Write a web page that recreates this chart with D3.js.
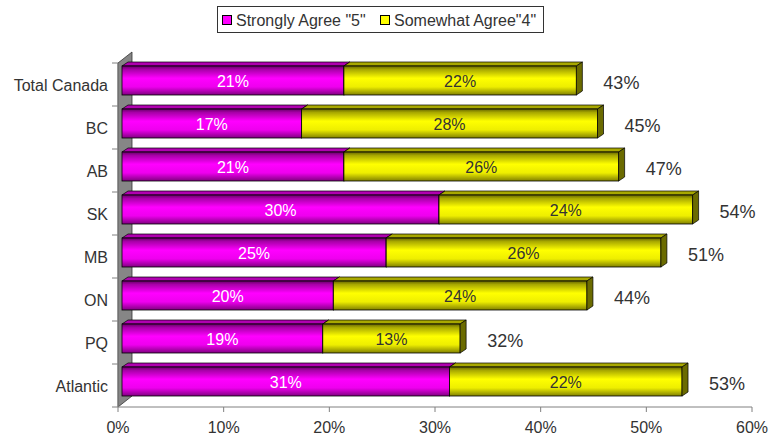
<!DOCTYPE html>
<html>
<head>
<meta charset="utf-8" />
<title>Agreement by region</title>
<style type="text/css">
  body { margin: 0; background: #fff; font-family: 'Liberation Sans', Arial, sans-serif; }
  text { font-family: 'Liberation Sans', Arial, sans-serif; }
</style>
</head>
<body>
<div id="graph"></div>
<script src="https://cdnjs.cloudflare.com/ajax/libs/d3/7.8.5/d3.min.js"></script>
<script>
// chart values
var categories = ["Total Canada", "BC", "AB", "SK", "MB", "ON", "PQ", "Atlantic"];
var strongly = [21, 17, 21, 30, 25, 20, 19, 31];
var somewhat = [22, 28, 26, 24, 26, 24, 13, 22];
var totals = [43, 45, 47, 54, 51, 44, 32, 53];
var seriesNames = ['Strongly Agree "5"', 'Somewhat Agree"4"'];
var xTicks = [0, 10, 20, 30, 40, 50, 60];

var width = 769, height = 438;

var svg = d3.select("#graph").append("svg")
    .attr("width", width)
    .attr("height", height);

var x = d3.scaleLinear().domain([0, 60]).range([118, 752]);
var y = d3.scaleBand().domain(categories).range([63, 407]).padding(0);

// 3d offsets
var wallDx = 14, wallDy = -11;
var frontDx = 4, depthDx = 6, depthDy = -4;
var barH = 29, barTop = 3;

// gradients
var defs = svg.append("defs");
function grad(id, stops) {
  var g = defs.append("linearGradient").attr("id", id)
      .attr("x1", 0).attr("y1", 0).attr("x2", 0).attr("y2", 1);
  stops.forEach(function(s) {
    g.append("stop").attr("offset", s[0]).attr("stop-color", s[1]);
  });
}
grad("gMag", [[0, "#660066"], [0.12, "#a800a8"], [0.42, "#ff00ff"], [0.72, "#ee00ee"], [1, "#800080"]]);
grad("gYel", [[0, "#666600"], [0.12, "#a8a800"], [0.42, "#ffff00"], [0.72, "#eeee00"], [1, "#808000"]]);

var series = [
  {values: strongly, fill: "url(#gMag)", top: "#b000b0", side: "#800080", swatch: "#ff00ff", label: "#fff"},
  {values: somewhat, fill: "url(#gYel)", top: "#a8a800", side: "#6b6b00", swatch: "#ffff00", label: "#333"}
];

// side wall
var x0 = x(0), yT = y.range()[0], yB = y.range()[1];
svg.append("path")
    .attr("d", "M" + x0 + "," + yB + "L" + x0 + "," + yT +
      "L" + (x0 + wallDx) + "," + (yT + wallDy) + "L" + (x0 + wallDx) + "," + (yB + wallDy) + "Z")
    .attr("fill", "#868686")
    .attr("stroke", "#333")
    .attr("stroke-width", 0.8);

// left axis ticks
svg.append("line")
    .attr("x1", x0).attr("x2", x0).attr("y1", yT).attr("y2", yB)
    .attr("stroke", "#808080");
svg.selectAll(".ytick")
    .data(categories.concat(["_end"]))
  .enter().append("line")
    .attr("x1", x0 - 6).attr("x2", x0)
    .attr("y1", function(d, i) { return yT + i * y.bandwidth(); })
    .attr("y2", function(d, i) { return yT + i * y.bandwidth(); })
    .attr("stroke", "#808080");

svg.selectAll(".cat")
    .data(categories)
  .enter().append("text")
    .attr("x", 108)
    .attr("y", function(d) { return y(d) + y.bandwidth() / 2 + 6; })
    .attr("text-anchor", "end")
    .attr("font-size", 16)
    .attr("fill", "#333")
    .text(function(d) { return d; });

// bottom axis
svg.append("line")
    .attr("x1", x(0)).attr("x2", x(60)).attr("y1", yB).attr("y2", yB)
    .attr("stroke", "#808080");
svg.selectAll(".xtick")
    .data(xTicks)
  .enter().append("line")
    .attr("x1", function(d) { return x(d); })
    .attr("x2", function(d) { return x(d); })
    .attr("y1", yB).attr("y2", yB + 5)
    .attr("stroke", "#808080");
svg.selectAll(".xlab")
    .data(xTicks)
  .enter().append("text")
    .attr("x", function(d) { return x(d); })
    .attr("y", 433)
    .attr("text-anchor", "middle")
    .attr("font-size", 16)
    .attr("fill", "#333")
    .text(function(d) { return d + "%"; });

// bars
categories.forEach(function(cat, i) {
  var top = y(cat) + barTop;
  var start = 0;
  series.forEach(function(s) {
    var v = s.values[i];
    var xa = x(start) + frontDx, xb = x(start + v) + frontDx;
    var g = svg.append("g");
    g.append("path")
        .attr("d", "M" + xa + "," + top + "L" + (xa + depthDx) + "," + (top + depthDy) +
          "L" + (xb + depthDx) + "," + (top + depthDy) + "L" + xb + "," + top + "Z")
        .attr("fill", s.top).attr("stroke", "#000").attr("stroke-width", 0.7);
    g.append("rect")
        .attr("x", xa).attr("y", top)
        .attr("width", xb - xa).attr("height", barH)
        .attr("fill", s.fill).attr("stroke", "#000").attr("stroke-width", 0.8);
    g.append("path")
        .attr("d", "M" + xb + "," + top + "L" + (xb + depthDx) + "," + (top + depthDy) +
          "L" + (xb + depthDx) + "," + (top + barH + depthDy) + "L" + xb + "," + (top + barH) + "Z")
        .attr("fill", s.side).attr("stroke", "#000").attr("stroke-width", 0.7);
    g.append("text")
        .attr("x", (xa + xb) / 2)
        .attr("y", top + barH / 2 + 6)
        .attr("text-anchor", "middle")
        .attr("font-size", 16)
        .attr("fill", s.label)
        .text(v + "%");
    start += v;
  });
});

// totals
svg.selectAll(".total")
    .data(totals)
  .enter().append("text")
    .attr("x", function(d) { return x(d) + 31; })
    .attr("y", function(d, i) { return y(categories[i]) + y.bandwidth() / 2 + 4; })
    .attr("font-size", 18)
    .attr("fill", "#333")
    .text(function(d) { return d + "%"; });

// legend
var legend = svg.append("g");
legend.append("rect")
    .attr("x", 217.5).attr("y", 6.5).attr("width", 326).attr("height", 26)
    .attr("fill", "#fff").attr("stroke", "#333");
var legX = [222, 380];
seriesNames.forEach(function(name, i) {
  legend.append("rect")
      .attr("x", legX[i] + 0.5).attr("y", 15.5).attr("width", 9).attr("height", 9)
      .attr("fill", series[i].swatch).attr("stroke", "#000");
  legend.append("text")
      .attr("x", legX[i] + 14).attr("y", 25.5)
      .attr("font-size", 16)
      .attr("fill", "#333")
      .text(name);
});
</script>
</body>
</html>
